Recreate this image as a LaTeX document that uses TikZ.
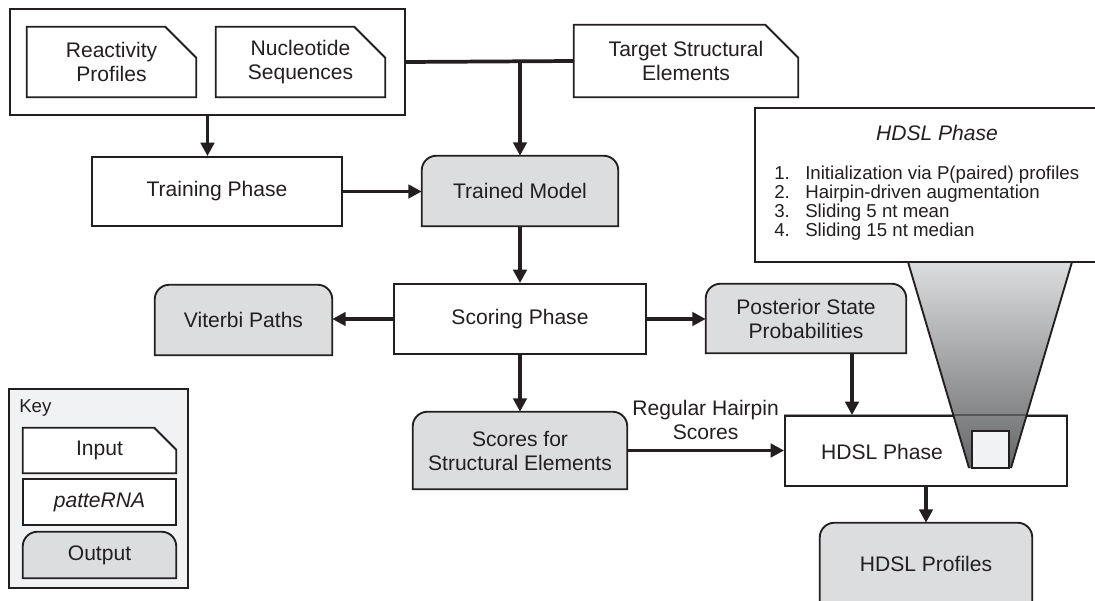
\documentclass[tikz,border=0pt]{standalone}
\usepackage{fontspec}
\setmainfont{Liberation Sans}
\usepackage{tikz}
\usetikzlibrary{arrows.meta,positioning,backgrounds}
\definecolor{ink}{HTML}{231F20}
\definecolor{outgray}{HTML}{DCDDDF}
\definecolor{keygray}{HTML}{F1F2F3}
\definecolor{funtop}{HTML}{DCDDDF}
\definecolor{funbot}{HTML}{666769}
\newcommand{\mainsz}{\fontsize{15.8pt}{18pt}\selectfont}
\newcommand{\listsz}{\fontsize{14pt}{14.25pt}\selectfont}
\def\pu{0.75pt}

\begin{document}
\begin{tikzpicture}[x=0.75pt,y=-0.75pt,
    every node/.style={text=ink,font=\mainsz,align=center,inner sep=0pt},
    phase/.style={draw=ink,fill=white,line width=1.4pt},
    bare/.style={draw=none},
    outline/.style={draw=ink,line width=1.4pt},
    arr/.style={draw=ink,line width=2.8pt,-{Triangle[length=10pt,width=10pt]}},
    link/.style={draw=ink,line width=2.8pt}]
        \useasboundingbox (0,0) rectangle (1095,600);
        \node[bare,minimum width=395*\pu,minimum height=106*\pu] (inputs) at (207.5,62) {};
        \node[bare,minimum width=169*\pu,minimum height=70*\pu] (react) at (111.5,62) {Reactivity\\Profiles};
        \node[bare,minimum width=169*\pu,minimum height=70*\pu] (nucl) at (300.5,62) {Nucleotide\\Sequences};
        \node[bare,minimum width=224*\pu,minimum height=72*\pu] (target) at (686,61) {Target Structural\\Elements};
        \node[phase,minimum width=250*\pu,minimum height=69*\pu] (train) at (217,191.5) {Training Phase};
        \node[bare,minimum width=196*\pu,minimum height=70*\pu] (model) at (520,191) {Trained Model};
        \node[phase,minimum width=252*\pu,minimum height=70*\pu] (score) at (520,319) {Scoring Phase};
        \node[bare,minimum width=177*\pu,minimum height=70*\pu] (viterbi) at (243.5,320) {Viterbi Paths};
        \node[bare,minimum width=200*\pu,minimum height=69*\pu] (post) at (806,318.5) {Posterior State\\Probabilities};
        \node[bare,minimum width=214*\pu,minimum height=77*\pu] (scores) at (520,450.5) {Scores for\\Structural Elements};
        \node[phase,minimum width=282*\pu,minimum height=70*\pu] (hdsl) at (926,451) {};
        \node (hdsltxt) at (882,452) {HDSL Phase};
        \node[bare,minimum width=212*\pu,minimum height=82*\pu] (profiles) at (926,564) {HDSL Profiles};

        \shade[top color=funtop,bottom color=funbot] (908,262) -- (1072,262) -- (1011,468) -- (969,468) -- cycle;
        \draw[outline] (908,262) -- (969,468) (1072,262) -- (1011,468);
        \draw[ink,line width=1.4pt,draw opacity=0.45] (hdsl.north west) -- (hdsl.north east);
        \node[phase,fill=keygray,minimum width=37*\pu,minimum height=37*\pu] (zoomsq) at (990.5,449.5) {};

        \node[phase,minimum width=343*\pu,minimum height=154*\pu] (detail) at (926.5,185) {};
        \node[font=\mainsz\itshape] (dtitle) at (937,133) {HDSL Phase};
        \foreach \n/\s in {1/{Initialization via P(paired) profiles},2/{Hairpin-driven augmentation},
                           3/{Sliding 5 nt mean},4/{Sliding 15 nt median}} {
          \node[font=\listsz,anchor=base west] (num\n) at (774,{179.5+19*(\n-1)}) {\n.};
          \node[font=\listsz,anchor=base west] (item\n) at (805,{179.5+19*(\n-1)}) {\s};
        }

        \node[bare,minimum width=179*\pu,minimum height=199*\pu] (key) at (98.5,488.5) {};
        \node[anchor=west,font=\fontsize{14pt}{16pt}\selectfont] (keylbl) at (19,408) {Key};
        \node[bare,minimum width=153*\pu,minimum height=45*\pu] (kin) at (99.5,450.5) {Input};
        \node[phase,minimum width=153*\pu,minimum height=46*\pu] (kpat) at (99.5,502) {\itshape patteRNA};
        \node[bare,minimum width=153*\pu,minimum height=46*\pu] (kout) at (99.5,555) {Output};

        \begin{scope}[on background layer]
          \draw[outline,fill=white] (inputs.south west) rectangle (inputs.north east);
          \draw[outline,fill=keygray] (key.south west) rectangle (key.north east);
          \foreach \n/\c in {react/31,nucl/31,target/33,kin/22}
            \draw[outline,fill=white] (\n.south west) -- (\n.north west) -- ([xshift=-\c*\pu]\n.north east)
              -- ([yshift=-\c*\pu]\n.north east) -- (\n.south east) -- cycle;
          \foreach \n in {model,viterbi,post,scores,profiles,kout}
            \draw[outline,fill=outgray] (\n.south west) -- ([yshift=-11pt]\n.north west)
              arc[start angle=180,end angle=90,radius=11pt] -- ([xshift=-11pt]\n.north east)
              arc[start angle=90,end angle=0,radius=11pt] -- (\n.south east) -- cycle;
        \end{scope}

        \draw[arr] (inputs.south) -- (inputs.south |- train.north);
        \draw[link] (inputs.east) -- (target.west);
        \draw[arr] (inputs.east -| model.north) -- (model.north);
        \draw[arr] (train.east) -- (train.east -| model.west);
        \draw[arr] (model) -- (score);
        \draw[arr] (score.west) -- (score.west -| viterbi.east);
        \draw[arr] (score.east) -- (score.east -| post.west);
        \draw[arr] (score) -- (scores);
        \draw[arr] (scores.east) -- node[above=7pt] (hairlbl) {Regular Hairpin\\Scores} (scores.east -| hdsl.west);
        \coordinate (postdrop) at ([xshift=46*\pu]post.south);
        \draw[arr] (postdrop) -- (postdrop |- hdsl.north);
        \draw[arr] (hdsl) -- (profiles);
      \end{tikzpicture}
\end{document}
